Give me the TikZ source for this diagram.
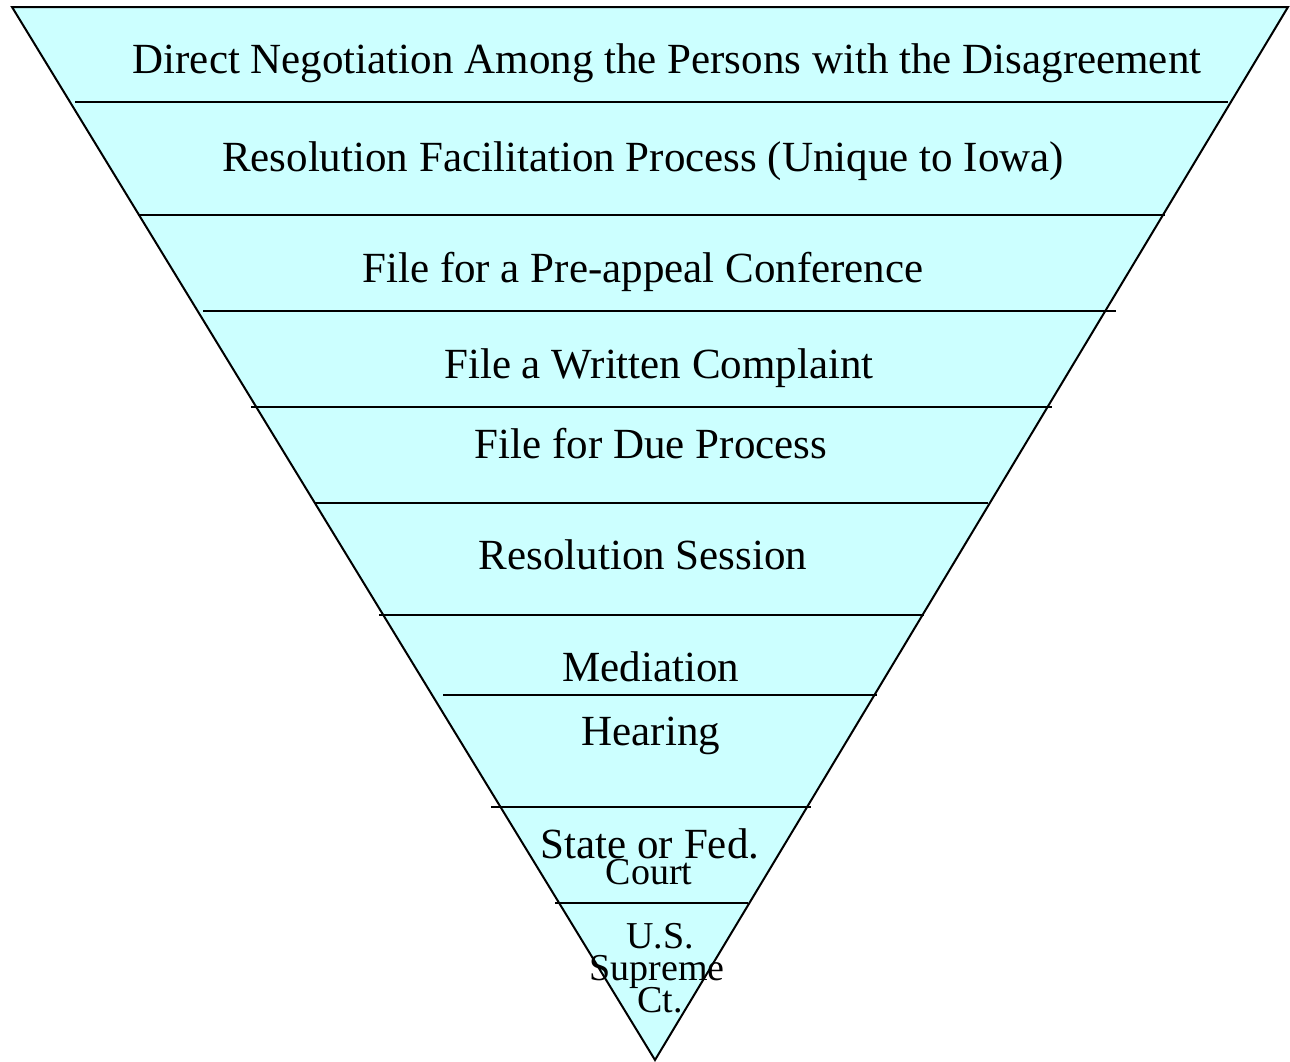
\documentclass[tikz,border=0pt]{standalone}
\usepackage{fontspec}
\setmainfont{Liberation Serif}
\definecolor{funnelfill}{HTML}{CCFFFF}
\begin{document}
\begin{tikzpicture}[x=1pt,y=-1pt,
  divider/.style={line width=2pt},
  big/.style={anchor=base,inner sep=0pt,font=\fontsize{43}{48}\selectfont},
  small/.style={anchor=base,inner sep=0pt,font=\fontsize{38}{42}\selectfont}]
\useasboundingbox (0,0) rectangle (1290,1061);
% inverted triangle
\coordinate (tl) at (12,7);
\coordinate (tr) at (1288,7);
\coordinate (apex) at (655,1060);
\draw[fill=funnelfill,line width=2pt,line join=miter] (tl) -- (tr) -- (apex) -- cycle;
% level dividers
\draw[divider] (75,102) -- (1228,102);
\draw[divider] (138,215) -- (1165,215);
\draw[divider] (203,311) -- (1116,311);
\draw[divider] (251,407) -- (1052,407);
\draw[divider] (315,503) -- (988,503);
\draw[divider] (379,615) -- (924,615);
\draw[divider] (443,695) -- (877,695);
\draw[divider] (491,807) -- (811,807);
\draw[divider] (555,903) -- (748,903);
% labels
\node[big] (l1) at (667,73) {Direct Negotiation Among the Persons with the Disagreement};
\node[big] (l2) at (643,171) {Resolution Facilitation Process (Unique to Iowa)};
\node[big] (l3) at (643,282) {File for a Pre-appeal Conference};
\node[big] (l4) at (659,378) {File a Written Complaint};
\node[big] (l5) at (651,458) {File for Due Process};
\node[big] (l6) at (643,569) {Resolution Session};
\node[big] (l7) at (651,681) {Mediation};
\node[big] (l8) at (651,745) {Hearing};
\node[big] (l9) at (650,858) {State or Fed.};
\node[small] (l9b) at (649,884) {Court};
\node[small] (l10a) at (660,948) {U.S.};
\node[small] (l10b) at (657,980) {Supreme};
\node[small] (l10c) at (660,1012) {Ct.};
\end{tikzpicture}
\end{document}
